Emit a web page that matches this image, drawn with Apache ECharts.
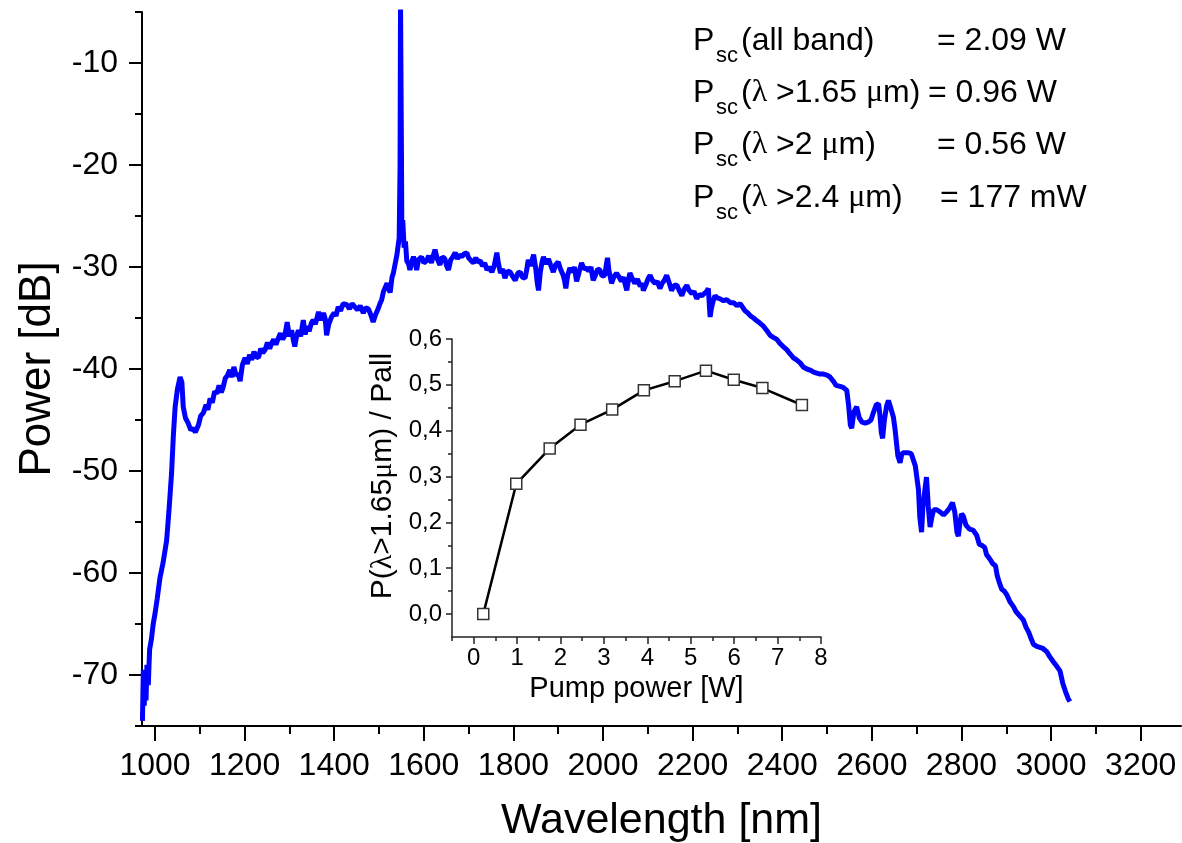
<!DOCTYPE html>
<html><head><meta charset="utf-8">
<script src="https://cdn.jsdelivr.net/npm/echarts@6/dist/echarts.min.js"></script>
<style>html,body{margin:0;padding:0;background:#fff}#c{width:1182px;height:843px}</style>
</head><body><div id="c"></div>
<script>
// ---- main spectrum ----
const wavelength = [972,974,976,978,980,982,985,988,992,996,1000,1005,1011,1018,1026,1031,1037,1041,1045,1050,1056,1060,1063,1068,1074,1080,1085,1090,1097,1102,1108,1114,1118,1123,1128,1133,1138,1143,1148,1152,1157,1162,1167,1172,1176,1181,1186,1190,1195,1201,1206,1211,1216,1221,1226,1231,1236,1241,1246,1251,1256,1260,1265,1270,1275,1280,1285,1290,1295,1300,1305,1309,1312,1316,1320,1325,1331,1335,1340,1344,1349,1353,1358,1365,1370,1376,1380,1383,1388,1394,1400,1404,1409,1414,1420,1428,1434,1440,1446,1452,1458,1465,1470,1476,1481,1487,1492,1498,1502,1506,1510,1513,1518,1522,1525,1529,1532,1536,1540,1543,1545,1547,1548,1549,1550,1551,1553,1556,1559,1562,1566,1569,1573,1577,1581,1584,1588,1595,1600,1606,1611,1617,1621,1625,1630,1636,1641,1647,1651,1655,1660,1665,1670,1675,1680,1685,1690,1696,1700,1706,1711,1716,1720,1726,1731,1736,1741,1746,1752,1757,1763,1766,1771,1776,1781,1787,1793,1798,1804,1810,1815,1820,1826,1830,1833,1838,1845,1850,1853,1856,1860,1864,1867,1872,1878,1883,1889,1894,1900,1905,1911,1914,1917,1921,1926,1932,1936,1941,1946,1952,1958,1963,1968,1973,1978,1983,1988,1993,1998,2004,2008,2010,2013,2019,2024,2030,2036,2041,2046,2050,2053,2057,2060,2066,2071,2077,2083,2087,2090,2096,2100,2105,2110,2116,2121,2127,2132,2137,2142,2148,2153,2159,2165,2170,2176,2181,2187,2192,2198,2203,2209,2215,2221,2226,2231,2235,2239,2242,2246,2250,2254,2260,2269,2276,2284,2292,2299,2306,2311,2317,2323,2329,2336,2344,2350,2358,2365,2373,2380,2388,2395,2402,2410,2417,2425,2432,2440,2447,2455,2462,2470,2477,2484,2492,2500,2507,2514,2520,2529,2536,2544,2548,2552,2555,2560,2566,2572,2578,2585,2592,2598,2604,2610,2615,2618,2621,2624,2628,2633,2637,2642,2648,2652,2658,2663,2667,2672,2680,2688,2692,2697,2700,2704,2707,2711,2714,2718,2722,2726,2730,2734,2738,2745,2752,2760,2767,2774,2780,2785,2790,2793,2797,2800,2804,2810,2818,2826,2834,2840,2846,2852,2856,2863,2870,2876,2880,2885,2890,2896,2902,2908,2916,2922,2930,2938,2944,2950,2956,2961,2968,2975,2982,2990,2997,3005,3012,3020,3026,3032,3038,3042];
const power = [-74.5,-69.5,-73,-70,-72.5,-69,-71,-67.5,-66.5,-65,-64,-62.5,-60.5,-59,-56.8,-54,-50.2,-46.5,-43.7,-42,-40.8,-41.3,-43.7,-44.8,-45.3,-46,-45.8,-46.2,-45.5,-44.6,-44.3,-43.5,-44,-42.9,-43.3,-42.2,-42.4,-41.6,-42.3,-41.8,-40.9,-40.6,-40.1,-40.8,-39.8,-40.6,-40.5,-41.2,-39.6,-38.9,-39.5,-38.6,-39.1,-38.3,-38.8,-38.9,-38.0,-38.4,-38.1,-37.4,-38.0,-37.5,-37.1,-37.6,-37.0,-36.5,-37.1,-36.7,-35.4,-36.8,-36.2,-37.2,-37.8,-36.8,-36.2,-36.8,-35.2,-36.6,-35.8,-36.3,-35.5,-35.2,-35.6,-34.4,-35.2,-34.5,-35.1,-36.7,-35.6,-34.9,-34.5,-34.8,-33.9,-34.3,-33.6,-33.7,-34.1,-33.6,-33.9,-34.2,-33.8,-34.5,-34.0,-34.1,-34.6,-35.4,-34.7,-34.1,-33.6,-33.2,-32.4,-32.5,-31.6,-32.2,-32.5,-31.0,-30.6,-30.5,-28.8,-27.8,-27.2,-20,-4,-4,-18,-27,-25.4,-28.1,-27.5,-29.4,-29.7,-30.3,-29.5,-29.0,-29.6,-30.3,-29.3,-29.0,-29.6,-29.4,-28.9,-29.6,-28.9,-28.3,-29.2,-29.8,-29.0,-29.2,-29.9,-30.3,-29.3,-29.0,-28.6,-29.2,-28.8,-29.0,-28.7,-28.6,-29.1,-29.4,-29.6,-29.1,-29.5,-29.4,-29.9,-29.6,-30.3,-30.0,-30.5,-29.9,-28.6,-29.5,-30.6,-30.2,-31.1,-30.4,-30.5,-30.9,-31.3,-30.6,-30.5,-31.0,-31.1,-30.2,-29.3,-29.9,-28.8,-30.2,-31.5,-32.3,-30.5,-29.5,-29.0,-29.7,-29.2,-29.8,-30.5,-29.8,-29.5,-30.2,-30.8,-31.3,-32.1,-30.8,-30.1,-30.5,-30.0,-31.4,-30.6,-29.6,-30.2,-30.1,-30.4,-30.0,-31.3,-30.8,-30.2,-30.3,-30.9,-30.8,-29.6,-29.1,-30.3,-31.6,-31.0,-30.6,-31.0,-31.4,-31.0,-31.8,-32.3,-31.2,-30.6,-31.2,-31.6,-31.2,-31.9,-31.6,-32.3,-31.7,-31.2,-30.8,-31.3,-31.6,-31.4,-32.1,-31.6,-31.3,-30.8,-31.6,-32.3,-31.8,-31.8,-32.3,-32.8,-32.2,-31.8,-32.3,-32.6,-32.4,-33.1,-32.7,-32.8,-32.6,-32.4,-32.1,-34.9,-34.0,-33.3,-32.8,-33.0,-33.1,-33.3,-33.2,-33.5,-33.5,-33.8,-33.6,-33.9,-34.3,-34.5,-34.8,-35.0,-35.3,-35.5,-35.8,-36.2,-36.7,-36.9,-37.1,-37.5,-37.8,-38.1,-38.5,-38.9,-39.1,-39.4,-39.8,-40.0,-40.1,-40.3,-40.4,-40.5,-40.5,-40.6,-40.8,-41.2,-41.6,-41.7,-41.8,-42.1,-43.5,-45.5,-45.8,-44.2,-43.7,-44.8,-45.2,-45.3,-45.2,-45.0,-44.2,-43.5,-43.4,-44.5,-46.2,-46.8,-45.0,-43.6,-43.1,-43.8,-44.7,-46,-48.5,-49.2,-48.3,-48.2,-48.2,-48.3,-48.4,-49.5,-50.5,-51.8,-54.5,-56.0,-53.5,-52.0,-50.6,-53.5,-55.5,-54.5,-53.8,-53.8,-54.0,-54.3,-54.0,-53.6,-53.1,-54.0,-56.0,-56.4,-55.0,-54.2,-54.4,-55.3,-55.7,-55.8,-56.3,-57.2,-57.3,-57.5,-58.2,-58.6,-59.1,-59.3,-60.3,-61.0,-61.6,-61.8,-62.2,-62.8,-63.3,-63.8,-64.2,-64.6,-65.3,-65.8,-66.5,-67.0,-67.2,-67.3,-67.4,-67.7,-68.2,-68.7,-69.1,-69.6,-70.8,-71.6,-72.3,-72.6];

// ---- main axes ticks ----
const xMajorTicks = [1000,1200,1400,1600,1800,2000,2200,2400,2600,2800,3000,3200];
const xMinorTicks = [1100,1300,1500,1700,1900,2100,2300,2500,2700,2900,3100];
const yMajorTicks = [-70,-60,-50,-40,-30,-20,-10];
const yMinorTicks = [-75,-65,-55,-45,-35,-25,-15,-5];

// ---- inset data ----
const pumpPower = [0.22,0.98,1.75,2.46,3.19,3.92,4.63,5.35,5.99,6.65,7.56];
const powerRatio = [0.0,0.284,0.361,0.413,0.446,0.488,0.508,0.531,0.511,0.493,0.456];
const insetXTicks = [0,1,2,3,4,5,6,7,8];
const insetXMinor = [-0.5,0.5,1.5,2.5,3.5,4.5,5.5,6.5,7.5];
const insetYTicks = [0,0.1,0.2,0.3,0.4,0.5,0.6];
const insetYMinor = [0.05,0.15,0.25,0.35,0.45,0.55];

// ---- annotation texts ----
const annotLabels = ['(all band)','(λ >1.65 μm)','(λ >2 μm)','(λ >2.4 μm)'];
const annotValues = ['= 2.09 W','= 0.96 W','= 0.56 W','= 177 mW'];

const F = "'Liberation Sans', Arial, sans-serif";
const FG = "'Liberation Serif', serif";

function toRich(s){
  let out='', buf='';
  for (const ch of s){
    if (ch==='λ'||ch==='μ'){ if(buf){out+='{a|'+buf+'}';buf='';} out+='{g|'+ch+'}'; }
    else buf+=ch;
  }
  if(buf) out+='{a|'+buf+'}';
  return out;
}

const chart = echarts.init(document.getElementById('c'), null, {renderer:'canvas'});
const mainRect = {left:142, top:12, width:1039, height:714};
const insetRect = {left:452, top:339, width:369, height:298};

const graphics = [];
const lineY = [41, 93, 145, 198];
const valueX = [937, 928, 937, 940];
annotLabels.forEach((lab, i) => {
  graphics.push({type:'text', x:693, y:lineY[i], style:{text:'P', fontSize:32, fontFamily:F, fill:'#000', verticalAlign:'middle'}});
  graphics.push({type:'text', x:716, y:lineY[i]+15, style:{text:'sc', fontSize:22, fontFamily:F, fill:'#000', verticalAlign:'middle'}});
  graphics.push({type:'text', x:741, y:lineY[i], style:{text:toRich(lab), fontSize:32, fontFamily:F, fill:'#000', verticalAlign:'middle',
    rich:{a:{fontSize:32, fontFamily:F, fill:'#000'}, g:{fontSize:32, fontFamily:FG, fill:'#000'}}}});
  graphics.push({type:'text', x:valueX[i], y:lineY[i], style:{text:annotValues[i], fontSize:32, fontFamily:F, fill:'#000', verticalAlign:'middle'}});
});

const axisLineMain = {show:true, onZero:false, lineStyle:{color:'#000', width:2}};
const insetLine = {show:true, onZero:false, lineStyle:{color:'#222', width:1.5}};
const noLine = {show:false, onZero:false};
const g = r => Object.assign({containLabel:false, outerBoundsMode:'none'}, r);

chart.setOption({
  animation:false,
  backgroundColor:'#fff',
  grid:[g(mainRect), g(mainRect), g(insetRect), g(insetRect)],
  xAxis:[
    {gridIndex:0, type:'value', min:971, max:3290, axisLine:axisLineMain,
     axisTick:{show:true, customValues:xMajorTicks, length:15, lineStyle:{color:'#000', width:2}},
     axisLabel:{customValues:xMajorTicks, fontSize:32, fontFamily:F, color:'#000', margin:24,
       showMinLabel:true, showMaxLabel:true, hideOverlap:false, formatter:v => String(v)},
     splitLine:{show:false},
     name:'Wavelength [nm]', nameLocation:'middle', nameGap:74,
     nameTextStyle:{fontSize:43, fontFamily:F, color:'#000'}},
    {gridIndex:1, type:'value', min:971, max:3290, axisLine:noLine,
     axisTick:{show:true, customValues:xMinorTicks, length:8, lineStyle:{color:'#000', width:2}},
     axisLabel:{show:false}, splitLine:{show:false}},
    {gridIndex:2, type:'value', min:-0.5, max:8, axisLine:insetLine,
     axisTick:{show:true, customValues:insetXTicks, length:7, lineStyle:{color:'#222', width:1.5}},
     axisLabel:{customValues:insetXTicks, fontSize:24, fontFamily:F, color:'#000', margin:9,
       showMinLabel:true, showMaxLabel:true, formatter:v => String(v)},
     splitLine:{show:false},
     name:'Pump power [W]', nameLocation:'middle', nameGap:37,
     nameTextStyle:{fontSize:29, fontFamily:F, color:'#000'}},
    {gridIndex:3, type:'value', min:-0.5, max:8, axisLine:noLine,
     axisTick:{show:true, customValues:insetXMinor, length:4, lineStyle:{color:'#222', width:1.5}},
     axisLabel:{show:false}, splitLine:{show:false}}
  ],
  yAxis:[
    {gridIndex:0, type:'value', min:-75, max:-5, axisLine:axisLineMain,
     axisTick:{show:true, customValues:yMajorTicks, length:13, lineStyle:{color:'#000', width:2}},
     axisLabel:{customValues:yMajorTicks, fontSize:32, fontFamily:F, color:'#000', margin:24,
       showMinLabel:true, showMaxLabel:true, formatter:v => String(v)},
     splitLine:{show:false},
     name:'Power [dB]', nameLocation:'middle', nameGap:82, nameRotate:90,
     nameTextStyle:{fontSize:44, fontFamily:F, color:'#000'}},
    {gridIndex:1, type:'value', min:-75, max:-5, axisLine:noLine,
     axisTick:{show:true, customValues:yMinorTicks, length:7, lineStyle:{color:'#000', width:2}},
     axisLabel:{show:false}, splitLine:{show:false}},
    {gridIndex:2, type:'value', min:-0.05, max:0.6, axisLine:insetLine,
     axisTick:{show:true, customValues:insetYTicks, length:6, lineStyle:{color:'#222', width:1.5}},
     axisLabel:{customValues:insetYTicks, fontSize:24, fontFamily:F, color:'#000', margin:10,
       showMinLabel:true, showMaxLabel:true, formatter:v => v.toFixed(1).replace('.', ',')},
     splitLine:{show:false},
     name:toRich('P(λ>1.65μm) / Pall'), nameLocation:'middle', nameGap:54, nameRotate:90,
     nameTextStyle:{fontSize:30, fontFamily:F, color:'#000', padding:[0,0,0,24],
       rich:{a:{fontSize:30, fontFamily:F, color:'#000'}, g:{fontSize:30, fontFamily:FG, color:'#000'}}}},
    {gridIndex:3, type:'value', min:-0.05, max:0.6, axisLine:noLine,
     axisTick:{show:true, customValues:insetYMinor, length:4, lineStyle:{color:'#222', width:1.5}},
     axisLabel:{show:false}, splitLine:{show:false}}
  ],
  series:[
    {type:'line', xAxisIndex:0, yAxisIndex:0, data:wavelength.map((w,i)=>[w,power[i]]),
     showSymbol:false, symbol:'none', clip:true, lineStyle:{color:'#0000ff', width:5}, z:2},
    {type:'line', xAxisIndex:2, yAxisIndex:2, data:pumpPower.map((p,i)=>[p,powerRatio[i]]),
     symbol:'rect', symbolSize:11, showSymbol:true,
     itemStyle:{color:'#fff', borderColor:'#333', borderWidth:1.5},
     lineStyle:{color:'#000', width:2.5}, z:3}
  ],
  graphic:graphics
});
</script>
</body></html>
